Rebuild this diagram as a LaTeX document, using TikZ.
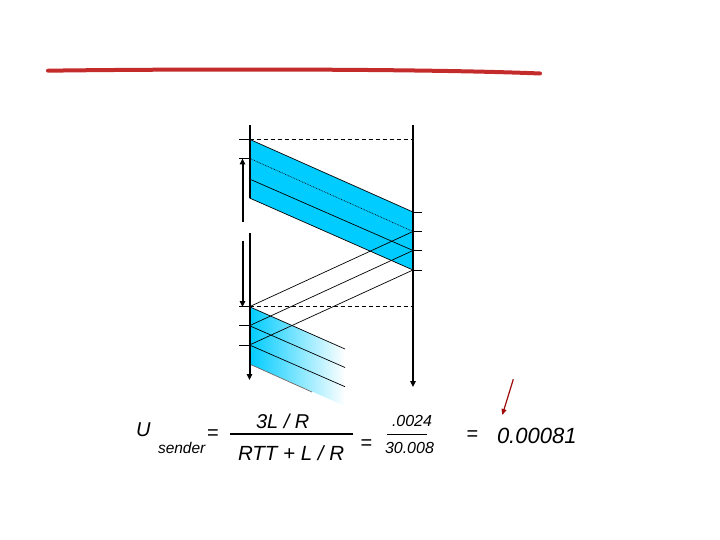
\documentclass[tikz,border=0pt]{standalone}
\usepackage{fontspec}
\setmainfont{Liberation Sans}
\usetikzlibrary{arrows.meta}
\definecolor{bandblue}{RGB}{0,204,255}
\definecolor{penred}{RGB}{196,44,44}
\definecolor{arrred}{RGB}{160,10,10}
\tikzset{
  vline/.style={line width=2pt},
  tickline/.style={line width=0.8pt},
  dashline/.style={line width=0.8pt, dash pattern=on 4pt off 3pt},
  msgline/.style={line width=0.7pt},
  eqtext/.style={inner sep=0pt, outer sep=0pt, anchor=base west, font=\itshape},
  tipA/.style={-{Triangle[length=6pt,width=5.5pt]}},
}
\begin{document}
\begin{tikzpicture}[x=1pt,y=-1pt]
\useasboundingbox (0,0) rectangle (720,540);
\fill[white] (0,0) rectangle (720,540);

% red pen stroke
\draw[penred, line width=4pt, line cap=round] (48,70.7) .. controls (170,69) and (420,68.5) .. (540,73.5);

% key coordinates
\coordinate (Ltop) at (249.5,125);
\coordinate (Lgap1) at (249.5,198);
\coordinate (Lgap2) at (249.5,233);
\coordinate (Lend) at (249.5,380);
\coordinate (Rtop) at (413,125);
\coordinate (Rend) at (413,387);

\coordinate (s0) at (249.5,139.3);
\coordinate (s1) at (249.5,158.3);
\coordinate (s2) at (249.5,179);
\coordinate (s3) at (249.5,198);
\coordinate (r0) at (413,212);
\coordinate (r1) at (413,231.5);
\coordinate (r2) at (413,250.5);
\coordinate (r3) at (413,270);
\coordinate (a1) at (249.5,306.7);
\coordinate (a2) at (249.5,325.7);
\coordinate (a3) at (249.5,345);
\coordinate (a4) at (249.5,364);

% top band
\fill[bandblue] (s0) -- (r0) -- (r3) -- (s3) -- cycle;
\draw[msgline] (s0) -- (r0);
\draw[msgline] (s3) -- (r3);
\draw[msgline, densely dotted] (s1) -- (r1);
\draw[msgline] (s2) -- (r2);

% lower band (fading)
\shade[left color=bandblue, right color=white] (a1) -- (345,349) -- (345,406) -- (a4) -- cycle;
\fill[white] (345,300) rectangle (360,410);
\draw[msgline] (a1) -- (345,349);
\draw[msgline] (a2) -- (345,367.5);
\draw[msgline] (a3) -- (345,386.7);
\draw[msgline, black!60] (a4) -- (312,392);

% acks
\draw[msgline] (r1) -- (a1);
\draw[msgline] (r2) -- (a2);
\draw[msgline] (r3) -- (a3);

% dashed lines
\draw[dashline] (s0) -- (413,139.3);
\draw[dashline] (a1) -- (413,306.7);

% ticks
\foreach \p in {s0,s1,a1,a2,a3} \draw[tickline] (\p) -- ++(-11,0);
\foreach \p in {r0,r1,r2,r3} \draw[tickline] (\p) -- ++(9,0);

% time lines
\draw[vline] (Ltop) -- (Lgap1);
\draw[vline, tipA] (Lgap2) -- (Lend);
\draw[vline, tipA] (Rtop) -- (Rend);

% RTT double arrow (with gap)
\draw[vline, tipA] (242.5,222) -- (242.5,158.5);
\draw[vline, tipA] (242.5,241) -- (242.5,307);

% red arrow
\coordinate (ra) at (513.3,379.3);
\coordinate (rb) at (502.3,415);
\draw[arrred, line width=1.2pt, -{Triangle[length=6pt,width=5pt]}] (ra) -- (rb);

% formula
\node[eqtext, font=\itshape\fontsize{20}{24}\selectfont] (U) at (136,436.7) {U};
\node[eqtext, font=\itshape\fontsize{15.5}{18}\selectfont] (sub) at (158,453.3) {sender};
\node[inner sep=0pt, font=\fontsize{20}{24}\selectfont] (eq1) at (213,434.6) {=};
\node[eqtext, font=\itshape\fontsize{20}{24}\selectfont] (num1) at (256,428.3) {3L / R};
\draw[line width=2pt] (230,434.3) -- (353,434.3);
\node[eqtext, font=\itshape\fontsize{20.5}{24}\selectfont] (den1) at (238,460) {RTT + L / R};
\node[inner sep=0pt, font=\fontsize{20}{24}\selectfont] (eq2) at (366.5,444.5) {=};
\node[eqtext, font=\itshape\fontsize{16}{19}\selectfont] (num2) at (392,426.7) {.0024};
\draw[line width=1.6pt] (387,434.3) -- (427,434.3);
\node[eqtext, font=\itshape\fontsize{16}{19}\selectfont] (den2) at (385,453.3) {30.008};
\node[inner sep=0pt, font=\fontsize{20}{24}\selectfont] (eq3) at (472.5,435.7) {=};
\node[eqtext, font=\itshape\fontsize{22}{26}\selectfont] (res) at (497,443.3) {0.00081};
\end{tikzpicture}
\end{document}
